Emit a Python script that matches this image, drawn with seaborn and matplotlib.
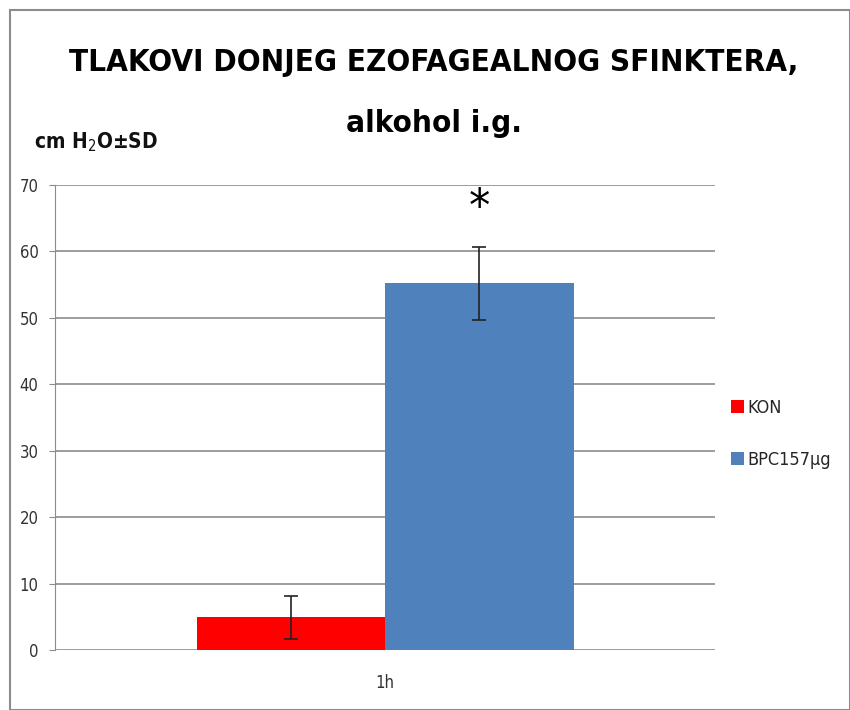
import matplotlib
matplotlib.use("Agg")
import matplotlib.pyplot as plt
import seaborn as sns
import pandas as pd
from matplotlib.patches import Rectangle

groups = ["KON", "BPC157µg"]
timepoints = ["1h", "1h"]
means = [4.9, 55.2]
sds = [3.3, 5.5]
colors = ["#ff0000", "#4f81bd"]
title_lines = ["TLAKOVI DONJEG EZOFAGEALNOG SFINKTERA,", "alkohol i.g."]

data = pd.DataFrame({"time": timepoints, "group": groups, "value": means})

sns.set_style("white")
plt.rcParams["font.family"] = ["DejaVu Sans"]
plt.rcParams["font.stretch"] = "condensed"

fig = plt.figure(figsize=(8.5, 7.1), dpi=100)
ax = fig.add_axes([0.065, 0.0845, 0.776, 0.655])

sns.barplot(data=data, x="time", y="value", hue="group", palette=colors,
            width=0.8, errorbar=None, ax=ax, legend=True, saturation=1,
            linewidth=0)

# error bars at bar centres
for patch, m, s in zip(ax.patches, means, sds):
    cx = patch.get_x() + patch.get_width() / 2
    ax.errorbar(cx, m, yerr=s, fmt="none", ecolor="#222222", elinewidth=1.2,
                capsize=5, capthick=1.2, zorder=5)

ax.text(ax.patches[1].get_x() + ax.patches[1].get_width() / 2, 66.5, "*",
        ha="center", va="center", fontsize=34, color="black")

ax.set_xlim(-0.7, 0.7)
ax.set_ylim(0, 70)
ax.set_yticks(range(0, 71, 10))
ax.yaxis.grid(True, color="#8c8c8c", linewidth=1.2)
ax.set_axisbelow(True)
for side in ["top", "right", "bottom"]:
    ax.spines[side].set_visible(False)
ax.spines["left"].set_color("#8c8c8c")
ax.tick_params(axis="y", left=True, length=4, color="#8c8c8c", labelsize=12,
               pad=8, labelcolor="#333333")
ax.tick_params(axis="x", labelsize=12, pad=14, labelcolor="#333333")
ax.set_xlabel("")
ax.set_ylabel("")

leg = ax.legend(loc="center left", bbox_to_anchor=(1.0, 0.465), frameon=False,
                fontsize=13, handlelength=0.7, handleheight=0.7,
                handletextpad=0.2, labelspacing=1.9)

fig.text(0.51, 0.912, title_lines[0], ha="center", va="center",
         fontsize=22.5, fontweight="bold", color="black")
fig.text(0.51, 0.826, title_lines[1], ha="center", va="center",
         fontsize=22.5, fontweight="bold", color="black")
fig.text(0.04, 0.80, "cm H$_2$O±SD", ha="left", va="center",
         fontsize=15, fontweight="bold", color="#111111")

fig.patches.append(Rectangle((0.012, 0.0), 0.988, 0.986, transform=fig.transFigure,
                             fill=False, edgecolor="#8c8c8c", linewidth=1.5))

fig.savefig("out.png", dpi=100)
